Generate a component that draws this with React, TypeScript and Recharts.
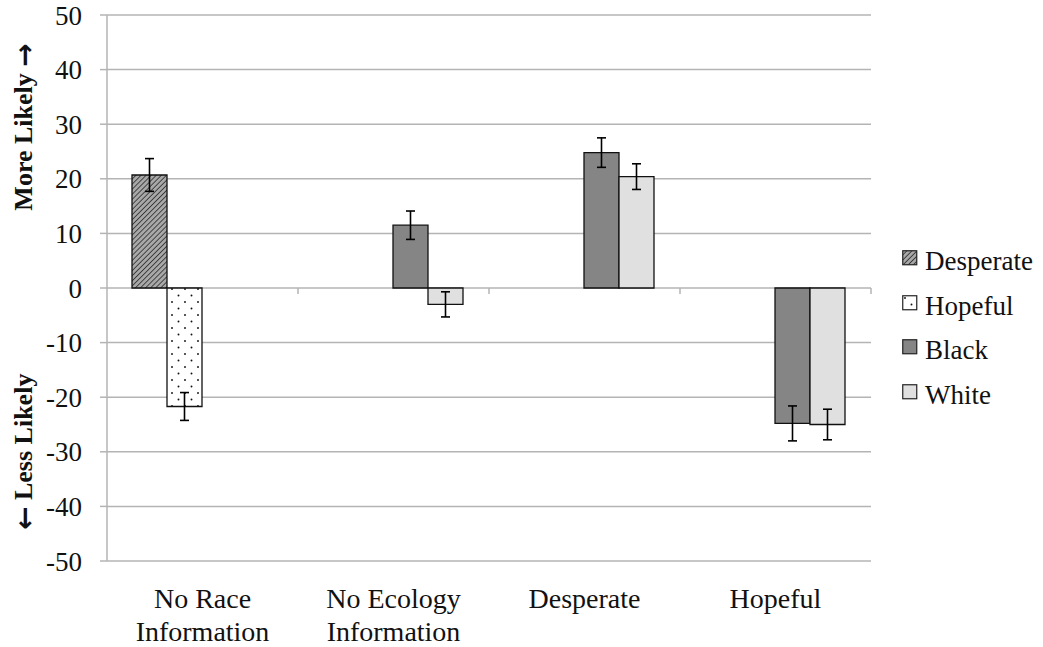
import React from "react";
import {
  BarChart,
  Bar,
  XAxis,
  YAxis,
  CartesianGrid,
  ErrorBar,
  Label,
} from "recharts";

// 値はグラフから読み取り
const categories = ["No Race\nInformation", "No Ecology\nInformation", "Desperate", "Hopeful"];
const desperate = [20.7, null, null, null];
const desperateErr = [3.0, null, null, null];
const hopeful = [-21.7, null, null, null];
const hopefulErr = [2.55, null, null, null];
const black = [null, 11.5, 24.8, -24.8];
const blackErr = [null, 2.6, 2.7, 3.2];
const white = [null, -3.0, 20.4, -25.0];
const whiteErr = [null, 2.3, 2.35, 2.8];
const yTicks = [-50, -40, -30, -20, -10, 0, 10, 20, 30, 40, 50];

const data = categories.map((name, i) => ({
  name,
  desperate: desperate[i],
  desperateErr: desperateErr[i],
  hopeful: hopeful[i],
  hopefulErr: hopefulErr[i],
  black: black[i],
  blackErr: blackErr[i],
  white: white[i],
  whiteErr: whiteErr[i],
}));

const FONT = "'Liberation Serif', 'Times New Roman', serif";
const W = 1043;
const H = 647;
const X_AXIS_H = 86;
const M = { top: 15, right: 172, bottom: 0, left: 0 };
const Y_AXIS_W = 107;
const PLOT_W = W - M.right - Y_AXIS_W;
const PLOT_H = H - M.top - X_AXIS_H;
const PLOT_BOTTOM = M.top + PLOT_H;
const ZERO_Y = M.top + PLOT_H / 2;
const BAND = PLOT_W / categories.length;
const GRID = "#b4b4b4";

const legendItems = [
  { label: "Desperate", fill: "url(#hatch)" },
  { label: "Hopeful", fill: "url(#dots)" },
  { label: "Black", fill: "#858585" },
  { label: "White", fill: "#e0e0e0" },
];

const CategoryTick = (props: any) => {
  const { x, payload } = props;
  const lines = String(payload.value).split("\n");
  return (
    <g>
      {/* ゼロ線上の区切り目盛り */}
      <line x1={x + BAND / 2} y1={ZERO_Y} x2={x + BAND / 2} y2={ZERO_Y + 6} stroke={GRID} strokeWidth={1.5} />
      <text x={x} y={PLOT_BOTTOM} textAnchor="middle" fontFamily={FONT} fontSize={28} fill="#111">
        {lines.map((l, i) => (
          <tspan key={i} x={x} dy={i === 0 ? 47 : 33}>
            {l}
          </tspan>
        ))}
      </text>
    </g>
  );
};

const AxisTitles = (props: any) => {
  const { viewBox } = props;
  const cx = 24;
  const y1 = viewBox.y + viewBox.height * 0.205;
  const y2 = viewBox.y + viewBox.height * 0.8;
  const arrow = { fontFamily: "'DejaVu Sans'", fontSize: 28 };
  return (
    <g fontFamily={FONT} fontSize={26} fontWeight="bold" fill="#111">
      <text x={cx} y={y1} textAnchor="middle" dominantBaseline="central" transform={`rotate(-90 ${cx} ${y1})`}>
        More Likely <tspan style={arrow}>→</tspan>
      </text>
      <text x={cx} y={y2} textAnchor="middle" dominantBaseline="central" transform={`rotate(-90 ${cx} ${y2})`}>
        <tspan style={arrow}>←</tspan> Less Likely
      </text>
    </g>
  );
};

const ChartLegend = () => (
  <div style={{ position: "absolute", left: 902, top: 239, fontFamily: FONT, fontSize: 27, color: "#111" }}>
    {legendItems.map((it) => (
      <div key={it.label} style={{ display: "flex", alignItems: "flex-start", height: 44.5, lineHeight: "44.5px" }}>
        <svg width={16} height={16} style={{ marginTop: 11, marginRight: 7 }}>
          <rect x={0.75} y={0.75} width={14} height={14} fill={it.fill} stroke="#222" strokeWidth={1.2} />
        </svg>
        <span>{it.label}</span>
      </div>
    ))}
  </div>
);

export default function App() {
  return (
    <div style={{ position: "absolute", left: 0, top: 0, width: W, height: H, background: "#fff" }}>
      <BarChart width={W} height={H} data={data} margin={M} barCategoryGap={25} barGap={0}>
        <defs>
          <pattern id="hatch" patternUnits="userSpaceOnUse" width={3.6} height={3.6} patternTransform="rotate(45)">
            <rect width={3.6} height={3.6} fill="#a8a8a8" />
            <line x1={0} y1={0} x2={0} y2={3.6} stroke="#222" strokeWidth={1.5} />
          </pattern>
          <pattern id="dots" patternUnits="userSpaceOnUse" width={13} height={13}>
            <rect width={13} height={13} fill="#fff" />
            <circle cx={3} cy={3} r={0.95} fill="#111" />
            <circle cx={9.5} cy={9.5} r={0.95} fill="#111" />
          </pattern>
        </defs>
        <CartesianGrid vertical={false} stroke={GRID} strokeWidth={1.5} />
        <XAxis
          dataKey="name"
          height={X_AXIS_H}
          axisLine={false}
          tickLine={false}
          tick={<CategoryTick />}
          interval={0}
        />
        <YAxis
          width={Y_AXIS_W}
          domain={[-50, 50]}
          ticks={yTicks}
          allowDataOverflow
          axisLine={{ stroke: GRID, strokeWidth: 1.5 }}
          tickLine={{ stroke: GRID, strokeWidth: 1.5 }}
          tickSize={7}
          tickMargin={18}
          tick={{ fill: "#111", fontSize: 27, fontFamily: FONT }}
        >
          <Label content={<AxisTitles />} />
        </YAxis>
        <Bar dataKey="desperate" fill="url(#hatch)" stroke="#111" strokeWidth={1.3} isAnimationActive={false}>
          <ErrorBar dataKey="desperateErr" width={4.5} stroke="#000" strokeWidth={1.6} />
        </Bar>
        <Bar dataKey="hopeful" fill="url(#dots)" stroke="#111" strokeWidth={1.3} isAnimationActive={false}>
          <ErrorBar dataKey="hopefulErr" width={4.5} stroke="#000" strokeWidth={1.6} />
        </Bar>
        <Bar dataKey="black" fill="#858585" stroke="#111" strokeWidth={1.3} isAnimationActive={false}>
          <ErrorBar dataKey="blackErr" width={4.5} stroke="#000" strokeWidth={1.6} />
        </Bar>
        <Bar dataKey="white" fill="#e0e0e0" stroke="#111" strokeWidth={1.3} isAnimationActive={false}>
          <ErrorBar dataKey="whiteErr" width={4.5} stroke="#000" strokeWidth={1.6} />
        </Bar>
      </BarChart>
      <ChartLegend />
    </div>
  );
}
